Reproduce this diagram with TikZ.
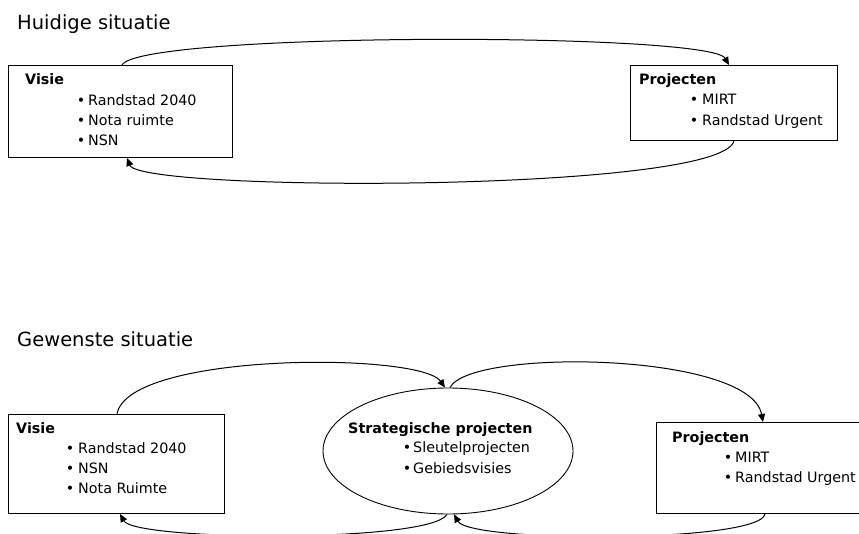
\documentclass[tikz,border=0pt]{standalone}
\usepackage{fontspec}
\setmainfont{DejaVu Sans}
\usetikzlibrary{shapes.geometric,arrows.meta,calc}
\begin{document}
\begin{tikzpicture}[x=1pt,y=-1pt,
  box/.style={draw,line width=1pt,inner sep=0pt,anchor=north west},
  oval/.style={draw,ellipse,line width=0.9pt,inner sep=0pt},
  title/.style={anchor=base west,inner sep=0pt,font=\fontsize{19.5}{23}\selectfont},
  head/.style={anchor=base west,inner sep=0pt,font=\fontsize{14.3}{17}\selectfont\bfseries},
  item/.style={anchor=base west,inner sep=0pt,font=\fontsize{14.3}{17}\selectfont},
  dot/.style={anchor=base,inner sep=0pt,font=\fontsize{14.3}{17}\selectfont},
  link/.style={line width=1pt,-{Triangle[length=8pt,width=7pt]}}]
\useasboundingbox (0,0) rectangle (859,534);
\clip (0,0) rectangle (859,534);

% ---------- Huidige situatie ----------
\node[title] (t1) at (17,30) {Huidige situatie};

\node[box,minimum width=224pt,minimum height=92pt] (visieA) at (8,65) {};
\node[head] (visieAh) at (25,85) {Visie};
\node[dot] (va1d) at (81,106) {•};
\node[item] (va1) at (88,106) {Randstad 2040};
\node[dot] (va2d) at (81,126) {•};
\node[item] (va2) at (88,126) {Nota ruimte};
\node[dot] (va3d) at (81,146) {•};
\node[item] (va3) at (88,146) {NSN};

\node[box,minimum width=207pt,minimum height=75pt] (projA) at (630,65) {};
\node[head] (projAh) at (639,85) {Projecten};
\node[dot] (pa1d) at (694,105) {•};
\node[item] (pa1) at (702,105) {MIRT};
\node[dot] (pa2d) at (694,126) {•};
\node[item] (pa2) at (702,126) {Randstad Urgent};

\draw[link] ($(visieA.north west)+(114,0)$) .. controls (140,32) and (710,32) .. ($(projA.north west)+(99,0)$);
\draw[link] ($(projA.south west)+(104,0)$) .. controls (720,193) and (140,192) .. ($(visieA.south west)+(119,0)$);

% ---------- Gewenste situatie ----------
\node[title] (t2) at (17,347) {Gewenste situatie};

\node[box,minimum width=216pt,minimum height=99pt] (visieB) at (8,414) {};
\node[head] (visieBh) at (16,433) {Visie};
\node[dot] (vb1d) at (70,453) {•};
\node[item] (vb1) at (78,453) {Randstad 2040};
\node[dot] (vb2d) at (70,473) {•};
\node[item] (vb2) at (78,473) {NSN};
\node[dot] (vb3d) at (70,493) {•};
\node[item] (vb3) at (78,493) {Nota Ruimte};

\node[oval,minimum width=250pt,minimum height=126pt] (ell) at (448,451) {};
\node[head] (ellh) at (348,433) {Strategische projecten};
\node[dot] (e1d) at (407,452) {•};
\node[item] (e1) at (413,452) {Sleutelprojecten};
\node[dot] (e2d) at (407,473) {•};
\node[item] (e2) at (413,473) {Gebiedsvisies};

\node[box,minimum width=220pt,minimum height=91pt] (projB) at (656,422) {};
\node[head] (projBh) at (672,442) {Projecten};
\node[dot] (pb1d) at (728,462) {•};
\node[item] (pb1) at (735,462) {MIRT};
\node[dot] (pb2d) at (728,482) {•};
\node[item] (pb2) at (735,482) {Randstad Urgent};

\draw[link] ($(visieB.north west)+(109,0)$) .. controls (128,352) and (420,352) .. ($(ell.north)+(-3,0)$);
\draw[link] ($(ell.north)+(2,0)$) .. controls (470,348) and (750,352) .. ($(projB.north west)+(107,0)$);
\draw[link] ($(projB.south west)+(109,0)$) .. controls (760,543) and (470,543) .. ($(ell.south)+(6,0)$);
\draw[link] ($(ell.south)+(-1,0)$) .. controls (430,543) and (135,541) .. ($(visieB.south west)+(112,0)$);
\end{tikzpicture}
\end{document}
